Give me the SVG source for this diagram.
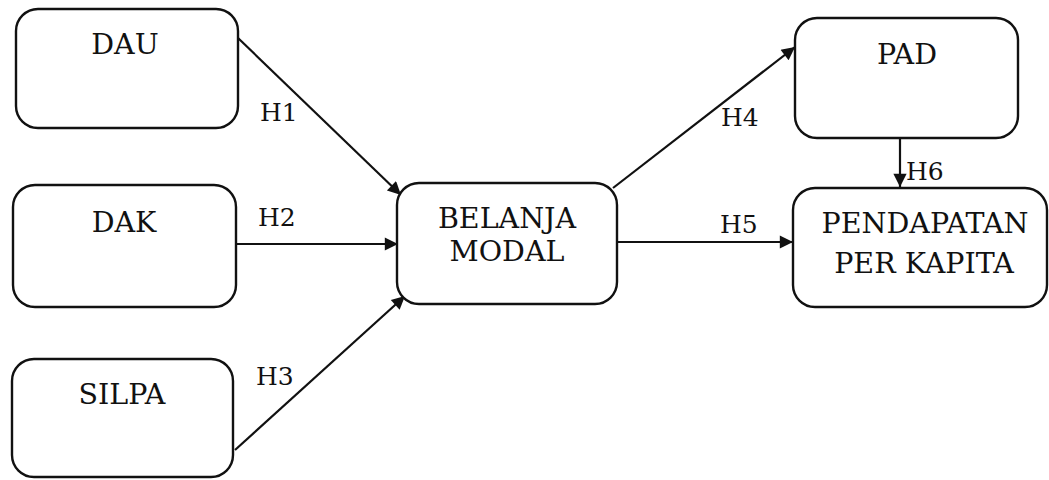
<svg xmlns="http://www.w3.org/2000/svg" width="1049" height="480" viewBox="0 0 1049 480">
<style>
.box{fill:#fff;stroke:#111;stroke-width:2.4}
.t{font-family:'DejaVu Serif',serif;font-size:28.5px;fill:#111;text-anchor:middle}
.lbl{font-family:'DejaVu Serif',serif;font-size:25px;fill:#111}
.c{stroke:#111;stroke-width:2.2;fill:none;marker-end:url(#ah)}
</style>
<defs>
<marker id="ah" viewBox="0 0 10 10" refX="10" refY="5" markerWidth="7" markerHeight="6" markerUnits="strokeWidth" orient="auto">
<path d="M0,0 L10,5 L0,10 z" fill="#111"/>
</marker>
</defs>
<rect width="1049" height="480" fill="#fff"/>
<g id="connectors">
<line class="c" x1="238" y1="38" x2="401" y2="195"/>
<line class="c" x1="236" y1="244" x2="398" y2="244"/>
<line class="c" x1="235" y1="450" x2="405" y2="296"/>
<line class="c" x1="613" y1="188" x2="795" y2="47"/>
<line class="c" x1="617" y1="242" x2="793" y2="242"/>
<line class="c" x1="900" y1="138" x2="900" y2="187"/>
<text class="lbl" x="260" y="121">H1</text>
<text class="lbl" x="258" y="226">H2</text>
<text class="lbl" x="256" y="385">H3</text>
<text class="lbl" x="721" y="126">H4</text>
<text class="lbl" x="720" y="233">H5</text>
<text class="lbl" x="906" y="180">H6</text>
</g>
<g id="dau"><rect class="box" x="16" y="9" width="222" height="119" rx="22"/><text class="t" x="125" y="54">DAU</text></g>
<g id="dak"><rect class="box" x="13" y="185" width="223" height="122" rx="22"/><text class="t" x="124" y="232">DAK</text></g>
<g id="silpa"><rect class="box" x="12" y="359" width="221" height="118" rx="22"/><text class="t" x="122" y="404">SILPA</text></g>
<g id="belanja"><rect class="box" x="397" y="183" width="220" height="121" rx="22"/><text class="t" x="507" y="228">BELANJA</text><text class="t" x="507" y="261">MODAL</text></g>
<g id="pad"><rect class="box" x="795" y="18" width="223" height="120" rx="22"/><text class="t" x="907" y="64">PAD</text></g>
<g id="pendapatan"><rect class="box" x="793" y="188" width="254" height="119" rx="22"/><text class="t" x="925" y="233">PENDAPATAN</text><text class="t" x="924" y="273">PER KAPITA</text></g>
</svg>
